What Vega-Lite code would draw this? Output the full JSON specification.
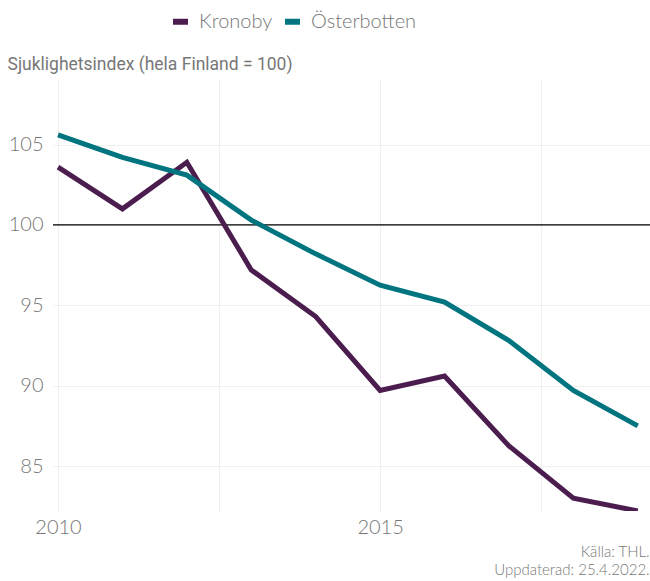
{
  "$schema": "https://vega.github.io/schema/vega-lite/v6.json",
  "width": 597,
  "height": 432,
  "autosize": "none",
  "padding": {"left": 53, "top": 79, "right": 0, "bottom": 70},
  "background": "white",
  "config": {
    "view": {"stroke": null},
    "font": "Lato"
  },
  "title": {
    "text": ["Källa: THL.", "Uppdaterad: 25.4.2022."],
    "orient": "bottom",
    "anchor": "end",
    "align": "right",
    "font": "Lato",
    "fontSize": 15,
    "fontWeight": 300,
    "lineHeight": 18,
    "color": "#777777",
    "offset": 8,
    "dx": -1
  },
  "data": {
    "values": [
      {"year": 2010, "area": "Kronoby", "value": 103.6},
      {"year": 2011, "area": "Kronoby", "value": 101.0},
      {"year": 2012, "area": "Kronoby", "value": 103.9},
      {"year": 2013, "area": "Kronoby", "value": 97.2},
      {"year": 2014, "area": "Kronoby", "value": 94.3},
      {"year": 2015, "area": "Kronoby", "value": 89.7},
      {"year": 2016, "area": "Kronoby", "value": 90.6},
      {"year": 2017, "area": "Kronoby", "value": 86.25},
      {"year": 2018, "area": "Kronoby", "value": 83.0},
      {"year": 2019, "area": "Kronoby", "value": 82.2},
      {"year": 2010, "area": "Österbotten", "value": 105.6},
      {"year": 2011, "area": "Österbotten", "value": 104.2},
      {"year": 2012, "area": "Österbotten", "value": 103.1},
      {"year": 2013, "area": "Österbotten", "value": 100.3},
      {"year": 2014, "area": "Österbotten", "value": 98.2},
      {"year": 2015, "area": "Österbotten", "value": 96.25},
      {"year": 2016, "area": "Österbotten", "value": 95.2},
      {"year": 2017, "area": "Österbotten", "value": 92.8},
      {"year": 2018, "area": "Österbotten", "value": 89.7},
      {"year": 2019, "area": "Österbotten", "value": 87.5}
    ]
  },
  "layer": [
    {
      "data": {"values": [{"ref": 100}]},
      "mark": {"type": "rule", "color": "#000000", "strokeWidth": 1.2},
      "encoding": {"y": {"field": "ref", "type": "quantitative"}}
    },
    {
      "mark": {"type": "line", "strokeWidth": 5, "strokeCap": "butt", "strokeJoin": "miter", "clip": true},
      "encoding": {
        "x": {
          "field": "year",
          "type": "quantitative",
          "scale": {"domain": [2009.922, 2019.19], "nice": false, "zero": false},
          "axis": {
            "title": null,
            "values": [2010, 2012.5, 2015, 2017.5],
            "labelExpr": "datum.value % 5 == 0 ? datum.value : ''",
            "domain": false,
            "ticks": false,
            "grid": true,
            "gridColor": "#efefef",
            "gridWidth": 1,
            "labelFont": "Lato",
            "labelFontWeight": 300,
            "labelFontSize": 20,
            "labelColor": "#777777",
            "labelPadding": 6,
            "labelFlush": false
          }
        },
        "y": {
          "field": "value",
          "type": "quantitative",
          "scale": {"domain": [82.2, 109.08], "nice": false, "zero": false},
          "axis": {
            "title": "Sjuklighetsindex (hela Finland = 100)",
            "titleFont": "Roboto",
            "titleFontWeight": "normal",
            "titleFontSize": 17.5,
            "titleColor": "#777777",
            "titleAngle": 0,
            "titleAlign": "left",
            "titleBaseline": "alphabetic",
            "titleX": -46,
            "titleY": -10,
            "values": [85, 90, 95, 100, 105],
            "domain": false,
            "ticks": false,
            "grid": true,
            "gridColor": "#efefef",
            "gridWidth": 1,
            "labelFont": "Lato",
            "labelFontWeight": 300,
            "labelFontSize": 20,
            "labelColor": "#777777",
            "labelPadding": 10
          }
        },
        "color": {
          "field": "area",
          "type": "nominal",
          "scale": {"domain": ["Kronoby", "Österbotten"], "range": ["#4b1d4f", "#00747f"]},
          "legend": {
            "title": null,
            "orient": "none",
            "direction": "horizontal",
            "legendX": 117,
            "legendY": -68,
            "symbolType": "stroke",
            "symbolStrokeWidth": 6,
            "symbolSize": 225,
            "labelFont": "Lato",
            "labelFontWeight": 300,
            "labelFontSize": 20,
            "labelColor": "#777777",
            "labelOffset": 8,
            "columnPadding": 0
          }
        }
      }
    }
  ]
}
